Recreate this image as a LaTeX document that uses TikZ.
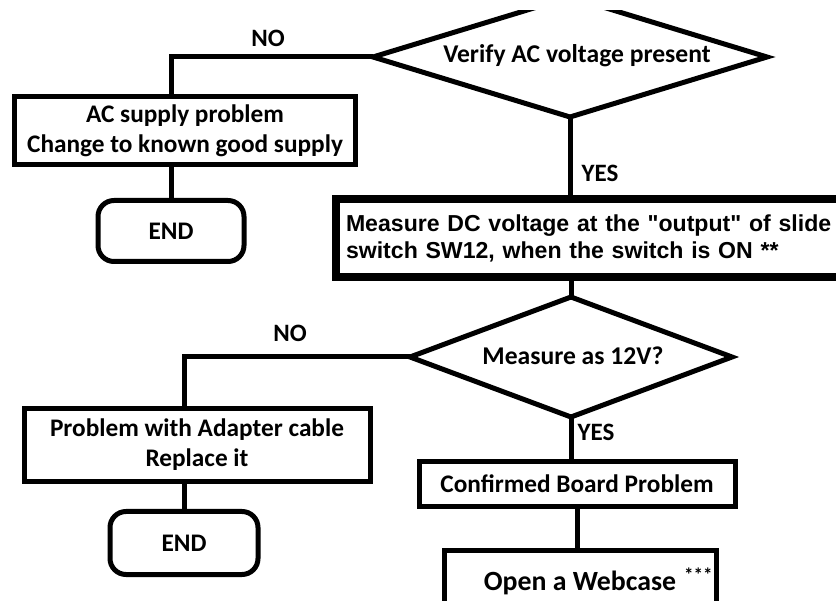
\documentclass[tikz,border=0pt]{standalone}
\usepackage{fontspec}
\setmainfont{Carlito}
\newfontfamily\arialfont{Liberation Sans}
\tikzset{
 box/.style={draw,line width=5pt,inner sep=0pt,align=center,font=\fontsize{25.3}{30}\selectfont\bfseries},
 endbox/.style={box,rounded corners=16pt},
 decision/.style={inner sep=0pt,font=\fontsize{25.6}{30}\selectfont\bfseries},
 link/.style={line width=5pt},
 dline/.style={line width=5pt,line join=miter},
 lbl/.style={font=\fontsize{25}{30}\selectfont\bfseries}
}

\begin{document}
\begin{tikzpicture}[x=1pt,y=-1pt]
\useasboundingbox (0,0) rectangle (836,601);
\clip (0,0) rectangle (836,601);

% upper part
\node[decision] (acchk) at (577,56) {Verify AC voltage present};
\coordinate (acchk w) at (373,57);
\coordinate (acchk e) at (767,57);
\coordinate (acchk s) at (570,117);
\coordinate (acchk n) at (570,-3);
\begin{scope}
\clip (0,11) rectangle (836,601);
\draw[dline] (acchk w) -- (acchk s) -- (acchk e) -- (acchk n) -- cycle;
\end{scope}

\node[box,minimum width=341pt,minimum height=68pt] (acbad) at (185,131) {AC supply problem\\Change to known good supply};
\node[endbox,minimum width=146pt,minimum height=61pt] (end1) at (171,231) {END};
\node[box,line width=8pt,anchor=north west,minimum width=540pt,minimum height=78pt,
      inner xsep=10pt,text width=520pt,align=left,font=\arialfont\fontsize{23.1}{27}\selectfont\bfseries]
      (dcmeas) at (332,195) {Measure DC voltage at the "output" of slide\\switch SW12, when the switch is ON **};

% lower part
\node[decision] (v12chk) at (573,356) {Measure as 12V?};
\coordinate (v12chk w) at (410,357);
\coordinate (v12chk e) at (732,357);
\coordinate (v12chk s) at (571,417);
\coordinate (v12chk n) at (571,297);
\draw[dline] (v12chk w) -- (v12chk s) -- (v12chk e) -- (v12chk n) -- cycle;

\node[box,minimum width=346pt,minimum height=73pt] (cable) at (197,445) {Problem with Adapter cable\\Replace it};
\node[endbox,minimum width=148pt,minimum height=63pt] (end2) at (184,543) {END};
\node[box,minimum width=316pt,minimum height=45pt] (board) at (577,484) {Confirmed Board Problem};
\node[box,minimum width=272pt,minimum height=62pt,anchor=north,font=\fontsize{27.8}{30}\selectfont\bfseries]
      (webcase) at (580,548) {Open a Webcase\rlap{\hspace{8pt}\raisebox{9pt}{\fontsize{19}{19}\selectfont ***}}};

\node[lbl] (no1) at (268,38) {NO};
\node[lbl] (yes1) at (600,173) {YES};
\node[lbl] (no2) at (290,333) {NO};
\node[lbl] (yes2) at (596,432) {YES};

\draw[link] (acchk w) -| (end1.north |- acbad.north);
\draw[link] (end1.north |- acbad.south) -- (end1.north);
\draw[link] (acchk s) -- (acchk s |- dcmeas.north);
\draw[link] (v12chk n |- dcmeas.south) -- (v12chk n);
\draw[link] (v12chk w) -| (end2.north |- cable.north);
\draw[link] (end2.north |- cable.south) -- (end2.north);
\draw[link] (v12chk s) -- (v12chk s |- board.north);
\draw[link] (board.south) -- (board.south |- webcase.north);

\end{tikzpicture}
\end{document}
